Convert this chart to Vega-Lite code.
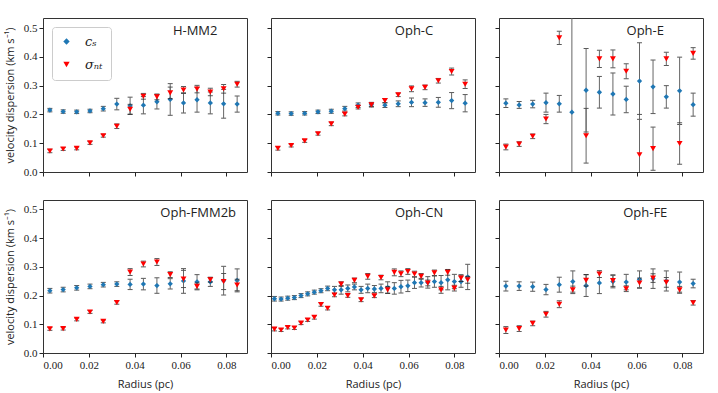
{
"$schema":"https://vega.github.io/schema/vega-lite/v6.json",
"background":"white",
"padding":{"left":3,"top":17,"right":5,"bottom":4},
"datasets":{"d":[
{"p":"H-MM2","s":"cs","r":0.0030,"v":0.215,"e":0.006},{"p":"H-MM2","s":"cs","r":0.0088,"v":0.210,"e":0.006},{"p":"H-MM2","s":"cs","r":0.0147,"v":0.209,"e":0.006},{"p":"H-MM2","s":"cs","r":0.0205,"v":0.212,"e":0.006},{"p":"H-MM2","s":"cs","r":0.0263,"v":0.220,"e":0.008},{"p":"H-MM2","s":"cs","r":0.0322,"v":0.236,"e":0.02},{"p":"H-MM2","s":"cs","r":0.0380,"v":0.230,"e":0.03},{"p":"H-MM2","s":"cs","r":0.0438,"v":0.232,"e":0.03},{"p":"H-MM2","s":"cs","r":0.0497,"v":0.244,"e":0.025},{"p":"H-MM2","s":"cs","r":0.0555,"v":0.252,"e":0.055},{"p":"H-MM2","s":"cs","r":0.0613,"v":0.240,"e":0.035},{"p":"H-MM2","s":"cs","r":0.0672,"v":0.251,"e":0.043},{"p":"H-MM2","s":"cs","r":0.0730,"v":0.240,"e":0.038},{"p":"H-MM2","s":"cs","r":0.0788,"v":0.237,"e":0.05},{"p":"H-MM2","s":"cs","r":0.0847,"v":0.236,"e":0.028},
{"p":"H-MM2","s":"nt","r":0.0030,"v":0.073,"e":0.006},{"p":"H-MM2","s":"nt","r":0.0088,"v":0.080,"e":0.005},{"p":"H-MM2","s":"nt","r":0.0147,"v":0.082,"e":0.005},{"p":"H-MM2","s":"nt","r":0.0205,"v":0.101,"e":0.005},{"p":"H-MM2","s":"nt","r":0.0263,"v":0.126,"e":0.005},{"p":"H-MM2","s":"nt","r":0.0322,"v":0.159,"e":0.008},{"p":"H-MM2","s":"nt","r":0.0380,"v":0.218,"e":0.017},{"p":"H-MM2","s":"nt","r":0.0438,"v":0.263,"e":0.01},{"p":"H-MM2","s":"nt","r":0.0497,"v":0.261,"e":0.01},{"p":"H-MM2","s":"nt","r":0.0555,"v":0.275,"e":0.02},{"p":"H-MM2","s":"nt","r":0.0613,"v":0.285,"e":0.012},{"p":"H-MM2","s":"nt","r":0.0672,"v":0.288,"e":0.013},{"p":"H-MM2","s":"nt","r":0.0730,"v":0.278,"e":0.013},{"p":"H-MM2","s":"nt","r":0.0788,"v":0.289,"e":0.015},{"p":"H-MM2","s":"nt","r":0.0847,"v":0.305,"e":0.01},
{"p":"Oph-C","s":"cs","r":0.0030,"v":0.204,"e":0.006},{"p":"Oph-C","s":"cs","r":0.0088,"v":0.203,"e":0.006},{"p":"Oph-C","s":"cs","r":0.0147,"v":0.204,"e":0.006},{"p":"Oph-C","s":"cs","r":0.0205,"v":0.209,"e":0.006},{"p":"Oph-C","s":"cs","r":0.0263,"v":0.211,"e":0.007},{"p":"Oph-C","s":"cs","r":0.0322,"v":0.220,"e":0.008},{"p":"Oph-C","s":"cs","r":0.0380,"v":0.232,"e":0.008},{"p":"Oph-C","s":"cs","r":0.0438,"v":0.234,"e":0.008},{"p":"Oph-C","s":"cs","r":0.0497,"v":0.232,"e":0.008},{"p":"Oph-C","s":"cs","r":0.0555,"v":0.237,"e":0.01},{"p":"Oph-C","s":"cs","r":0.0613,"v":0.242,"e":0.015},{"p":"Oph-C","s":"cs","r":0.0672,"v":0.241,"e":0.013},{"p":"Oph-C","s":"cs","r":0.0730,"v":0.242,"e":0.017},{"p":"Oph-C","s":"cs","r":0.0788,"v":0.248,"e":0.028},{"p":"Oph-C","s":"cs","r":0.0847,"v":0.239,"e":0.03},
{"p":"Oph-C","s":"nt","r":0.0030,"v":0.082,"e":0.006},{"p":"Oph-C","s":"nt","r":0.0088,"v":0.092,"e":0.005},{"p":"Oph-C","s":"nt","r":0.0147,"v":0.108,"e":0.005},{"p":"Oph-C","s":"nt","r":0.0205,"v":0.133,"e":0.005},{"p":"Oph-C","s":"nt","r":0.0263,"v":0.167,"e":0.006},{"p":"Oph-C","s":"nt","r":0.0322,"v":0.201,"e":0.006},{"p":"Oph-C","s":"nt","r":0.0380,"v":0.225,"e":0.006},{"p":"Oph-C","s":"nt","r":0.0438,"v":0.233,"e":0.006},{"p":"Oph-C","s":"nt","r":0.0497,"v":0.248,"e":0.007},{"p":"Oph-C","s":"nt","r":0.0555,"v":0.268,"e":0.006},{"p":"Oph-C","s":"nt","r":0.0613,"v":0.289,"e":0.01},{"p":"Oph-C","s":"nt","r":0.0672,"v":0.294,"e":0.008},{"p":"Oph-C","s":"nt","r":0.0730,"v":0.317,"e":0.008},{"p":"Oph-C","s":"nt","r":0.0788,"v":0.349,"e":0.012},{"p":"Oph-C","s":"nt","r":0.0847,"v":0.305,"e":0.015},
{"p":"Oph-E","s":"cs","r":0.0030,"v":0.239,"e":0.015},{"p":"Oph-E","s":"cs","r":0.0088,"v":0.233,"e":0.012},{"p":"Oph-E","s":"cs","r":0.0147,"v":0.236,"e":0.013},{"p":"Oph-E","s":"cs","r":0.0205,"v":0.241,"e":0.033},{"p":"Oph-E","s":"cs","r":0.0263,"v":0.237,"e":0.029},{"p":"Oph-E","s":"cs","r":0.0318,"v":0.208,"e":0.7},{"p":"Oph-E","s":"cs","r":0.0380,"v":0.284,"e":0.145},{"p":"Oph-E","s":"cs","r":0.0438,"v":0.277,"e":0.055},{"p":"Oph-E","s":"cs","r":0.0497,"v":0.271,"e":0.073},{"p":"Oph-E","s":"cs","r":0.0555,"v":0.252,"e":0.046},{"p":"Oph-E","s":"cs","r":0.0613,"v":0.316,"e":0.133},{"p":"Oph-E","s":"cs","r":0.0672,"v":0.296,"e":0.093},{"p":"Oph-E","s":"cs","r":0.0730,"v":0.261,"e":0.039},{"p":"Oph-E","s":"cs","r":0.0788,"v":0.282,"e":0.117},{"p":"Oph-E","s":"cs","r":0.0847,"v":0.234,"e":0.04},
{"p":"Oph-E","s":"nt","r":0.0030,"v":0.087,"e":0.01},{"p":"Oph-E","s":"nt","r":0.0088,"v":0.097,"e":0.008},{"p":"Oph-E","s":"nt","r":0.0147,"v":0.124,"e":0.008},{"p":"Oph-E","s":"nt","r":0.0205,"v":0.184,"e":0.016},{"p":"Oph-E","s":"nt","r":0.0263,"v":0.466,"e":0.023},{"p":"Oph-E","s":"nt","r":0.0380,"v":0.126,"e":0.095},{"p":"Oph-E","s":"nt","r":0.0438,"v":0.393,"e":0.03},{"p":"Oph-E","s":"nt","r":0.0497,"v":0.393,"e":0.031},{"p":"Oph-E","s":"nt","r":0.0555,"v":0.350,"e":0.026},{"p":"Oph-E","s":"nt","r":0.0613,"v":0.060,"e":0.14},{"p":"Oph-E","s":"nt","r":0.0672,"v":0.081,"e":0.075},{"p":"Oph-E","s":"nt","r":0.0730,"v":0.393,"e":0.023},{"p":"Oph-E","s":"nt","r":0.0788,"v":0.099,"e":0.072},{"p":"Oph-E","s":"nt","r":0.0847,"v":0.412,"e":0.02},
{"p":"Oph-FMM2b","s":"cs","r":0.0030,"v":0.217,"e":0.008},{"p":"Oph-FMM2b","s":"cs","r":0.0088,"v":0.221,"e":0.008},{"p":"Oph-FMM2b","s":"cs","r":0.0147,"v":0.227,"e":0.008},{"p":"Oph-FMM2b","s":"cs","r":0.0205,"v":0.232,"e":0.008},{"p":"Oph-FMM2b","s":"cs","r":0.0263,"v":0.238,"e":0.008},{"p":"Oph-FMM2b","s":"cs","r":0.0322,"v":0.240,"e":0.008},{"p":"Oph-FMM2b","s":"cs","r":0.0380,"v":0.239,"e":0.018},{"p":"Oph-FMM2b","s":"cs","r":0.0438,"v":0.240,"e":0.02},{"p":"Oph-FMM2b","s":"cs","r":0.0497,"v":0.235,"e":0.027},{"p":"Oph-FMM2b","s":"cs","r":0.0555,"v":0.241,"e":0.018},{"p":"Oph-FMM2b","s":"cs","r":0.0613,"v":0.251,"e":0.043},{"p":"Oph-FMM2b","s":"cs","r":0.0672,"v":0.248,"e":0.025},{"p":"Oph-FMM2b","s":"cs","r":0.0730,"v":0.248,"e":0.016},{"p":"Oph-FMM2b","s":"cs","r":0.0788,"v":0.252,"e":0.05},{"p":"Oph-FMM2b","s":"cs","r":0.0847,"v":0.253,"e":0.04},
{"p":"Oph-FMM2b","s":"nt","r":0.0030,"v":0.084,"e":0.005},{"p":"Oph-FMM2b","s":"nt","r":0.0088,"v":0.085,"e":0.005},{"p":"Oph-FMM2b","s":"nt","r":0.0147,"v":0.117,"e":0.005},{"p":"Oph-FMM2b","s":"nt","r":0.0205,"v":0.143,"e":0.005},{"p":"Oph-FMM2b","s":"nt","r":0.0263,"v":0.110,"e":0.005},{"p":"Oph-FMM2b","s":"nt","r":0.0322,"v":0.176,"e":0.006},{"p":"Oph-FMM2b","s":"nt","r":0.0380,"v":0.282,"e":0.012},{"p":"Oph-FMM2b","s":"nt","r":0.0438,"v":0.310,"e":0.01},{"p":"Oph-FMM2b","s":"nt","r":0.0497,"v":0.317,"e":0.012},{"p":"Oph-FMM2b","s":"nt","r":0.0555,"v":0.273,"e":0.01},{"p":"Oph-FMM2b","s":"nt","r":0.0613,"v":0.258,"e":0.03},{"p":"Oph-FMM2b","s":"nt","r":0.0672,"v":0.232,"e":0.012},{"p":"Oph-FMM2b","s":"nt","r":0.0730,"v":0.255,"e":0.008},{"p":"Oph-FMM2b","s":"nt","r":0.0788,"v":0.249,"e":0.028},{"p":"Oph-FMM2b","s":"nt","r":0.0847,"v":0.237,"e":0.02},
{"p":"Oph-CN","s":"cs","r":0.0015,"v":0.189,"e":0.008},{"p":"Oph-CN","s":"cs","r":0.0044,"v":0.188,"e":0.007},{"p":"Oph-CN","s":"cs","r":0.0073,"v":0.191,"e":0.007},{"p":"Oph-CN","s":"cs","r":0.0102,"v":0.193,"e":0.007},{"p":"Oph-CN","s":"cs","r":0.0131,"v":0.200,"e":0.007},{"p":"Oph-CN","s":"cs","r":0.0160,"v":0.206,"e":0.007},{"p":"Oph-CN","s":"cs","r":0.0189,"v":0.212,"e":0.007},{"p":"Oph-CN","s":"cs","r":0.0218,"v":0.217,"e":0.007},{"p":"Oph-CN","s":"cs","r":0.0247,"v":0.225,"e":0.008},{"p":"Oph-CN","s":"cs","r":0.0277,"v":0.220,"e":0.012},{"p":"Oph-CN","s":"cs","r":0.0306,"v":0.220,"e":0.015},{"p":"Oph-CN","s":"cs","r":0.0335,"v":0.225,"e":0.012},{"p":"Oph-CN","s":"cs","r":0.0364,"v":0.230,"e":0.01},{"p":"Oph-CN","s":"cs","r":0.0393,"v":0.220,"e":0.012},{"p":"Oph-CN","s":"cs","r":0.0422,"v":0.225,"e":0.015},{"p":"Oph-CN","s":"cs","r":0.0451,"v":0.223,"e":0.012},{"p":"Oph-CN","s":"cs","r":0.0480,"v":0.225,"e":0.015},{"p":"Oph-CN","s":"cs","r":0.0509,"v":0.228,"e":0.02},{"p":"Oph-CN","s":"cs","r":0.0538,"v":0.225,"e":0.02},{"p":"Oph-CN","s":"cs","r":0.0567,"v":0.231,"e":0.022},{"p":"Oph-CN","s":"cs","r":0.0597,"v":0.234,"e":0.02},{"p":"Oph-CN","s":"cs","r":0.0626,"v":0.245,"e":0.02},{"p":"Oph-CN","s":"cs","r":0.0655,"v":0.245,"e":0.015},{"p":"Oph-CN","s":"cs","r":0.0684,"v":0.246,"e":0.02},{"p":"Oph-CN","s":"cs","r":0.0713,"v":0.249,"e":0.02},{"p":"Oph-CN","s":"cs","r":0.0742,"v":0.245,"e":0.025},{"p":"Oph-CN","s":"cs","r":0.0771,"v":0.255,"e":0.035},{"p":"Oph-CN","s":"cs","r":0.0800,"v":0.249,"e":0.025},{"p":"Oph-CN","s":"cs","r":0.0829,"v":0.249,"e":0.02},{"p":"Oph-CN","s":"cs","r":0.0858,"v":0.265,"e":0.044},
{"p":"Oph-CN","s":"nt","r":0.0015,"v":0.083,"e":0.006},{"p":"Oph-CN","s":"nt","r":0.0044,"v":0.080,"e":0.005},{"p":"Oph-CN","s":"nt","r":0.0073,"v":0.089,"e":0.005},{"p":"Oph-CN","s":"nt","r":0.0102,"v":0.087,"e":0.005},{"p":"Oph-CN","s":"nt","r":0.0131,"v":0.104,"e":0.005},{"p":"Oph-CN","s":"nt","r":0.0160,"v":0.115,"e":0.005},{"p":"Oph-CN","s":"nt","r":0.0189,"v":0.124,"e":0.006},{"p":"Oph-CN","s":"nt","r":0.0218,"v":0.169,"e":0.006},{"p":"Oph-CN","s":"nt","r":0.0247,"v":0.156,"e":0.006},{"p":"Oph-CN","s":"nt","r":0.0277,"v":0.202,"e":0.006},{"p":"Oph-CN","s":"nt","r":0.0306,"v":0.240,"e":0.008},{"p":"Oph-CN","s":"nt","r":0.0335,"v":0.200,"e":0.006},{"p":"Oph-CN","s":"nt","r":0.0364,"v":0.253,"e":0.008},{"p":"Oph-CN","s":"nt","r":0.0393,"v":0.185,"e":0.006},{"p":"Oph-CN","s":"nt","r":0.0422,"v":0.267,"e":0.01},{"p":"Oph-CN","s":"nt","r":0.0451,"v":0.199,"e":0.006},{"p":"Oph-CN","s":"nt","r":0.0480,"v":0.263,"e":0.008},{"p":"Oph-CN","s":"nt","r":0.0509,"v":0.220,"e":0.012},{"p":"Oph-CN","s":"nt","r":0.0538,"v":0.281,"e":0.012},{"p":"Oph-CN","s":"nt","r":0.0567,"v":0.276,"e":0.01},{"p":"Oph-CN","s":"nt","r":0.0597,"v":0.284,"e":0.01},{"p":"Oph-CN","s":"nt","r":0.0626,"v":0.275,"e":0.01},{"p":"Oph-CN","s":"nt","r":0.0655,"v":0.267,"e":0.01},{"p":"Oph-CN","s":"nt","r":0.0684,"v":0.244,"e":0.01},{"p":"Oph-CN","s":"nt","r":0.0713,"v":0.279,"e":0.01},{"p":"Oph-CN","s":"nt","r":0.0742,"v":0.220,"e":0.012},{"p":"Oph-CN","s":"nt","r":0.0771,"v":0.281,"e":0.01},{"p":"Oph-CN","s":"nt","r":0.0800,"v":0.226,"e":0.01},{"p":"Oph-CN","s":"nt","r":0.0829,"v":0.261,"e":0.012},{"p":"Oph-CN","s":"nt","r":0.0858,"v":0.255,"e":0.012},
{"p":"Oph-FE","s":"cs","r":0.0030,"v":0.233,"e":0.017},{"p":"Oph-FE","s":"cs","r":0.0088,"v":0.233,"e":0.015},{"p":"Oph-FE","s":"cs","r":0.0147,"v":0.231,"e":0.016},{"p":"Oph-FE","s":"cs","r":0.0205,"v":0.221,"e":0.018},{"p":"Oph-FE","s":"cs","r":0.0263,"v":0.238,"e":0.026},{"p":"Oph-FE","s":"cs","r":0.0322,"v":0.249,"e":0.037},{"p":"Oph-FE","s":"cs","r":0.0380,"v":0.235,"e":0.038},{"p":"Oph-FE","s":"cs","r":0.0438,"v":0.244,"e":0.037},{"p":"Oph-FE","s":"cs","r":0.0497,"v":0.249,"e":0.022},{"p":"Oph-FE","s":"cs","r":0.0555,"v":0.247,"e":0.027},{"p":"Oph-FE","s":"cs","r":0.0613,"v":0.256,"e":0.03},{"p":"Oph-FE","s":"cs","r":0.0672,"v":0.259,"e":0.034},{"p":"Oph-FE","s":"cs","r":0.0730,"v":0.251,"e":0.035},{"p":"Oph-FE","s":"cs","r":0.0788,"v":0.247,"e":0.035},{"p":"Oph-FE","s":"cs","r":0.0847,"v":0.242,"e":0.015},
{"p":"Oph-FE","s":"nt","r":0.0030,"v":0.080,"e":0.012},{"p":"Oph-FE","s":"nt","r":0.0088,"v":0.085,"e":0.01},{"p":"Oph-FE","s":"nt","r":0.0147,"v":0.103,"e":0.008},{"p":"Oph-FE","s":"nt","r":0.0205,"v":0.135,"e":0.01},{"p":"Oph-FE","s":"nt","r":0.0263,"v":0.170,"e":0.012},{"p":"Oph-FE","s":"nt","r":0.0322,"v":0.220,"e":0.013},{"p":"Oph-FE","s":"nt","r":0.0380,"v":0.253,"e":0.02},{"p":"Oph-FE","s":"nt","r":0.0438,"v":0.275,"e":0.012},{"p":"Oph-FE","s":"nt","r":0.0497,"v":0.252,"e":0.02},{"p":"Oph-FE","s":"nt","r":0.0555,"v":0.224,"e":0.01},{"p":"Oph-FE","s":"nt","r":0.0613,"v":0.244,"e":0.017},{"p":"Oph-FE","s":"nt","r":0.0672,"v":0.261,"e":0.015},{"p":"Oph-FE","s":"nt","r":0.0730,"v":0.246,"e":0.017},{"p":"Oph-FE","s":"nt","r":0.0788,"v":0.220,"e":0.012},{"p":"Oph-FE","s":"nt","r":0.0847,"v":0.175,"e":0.008}
]},
"data":{"name":"d"},
"spacing":21,
"vconcat":[
{"hconcat":[
{"width":204,"height":154,
 "layer":[
  {"encoding":{"x":{"field":"r","type":"quantitative","scale":{"domain":[0,0.089],"nice":false},"axis":{"values":[0,0.02,0.04,0.06,0.08],"labels":false,"title":null}},
    "y":{"field":"v","type":"quantitative","scale":{"domain":[0,0.535],"nice":false},"axis":{"values":[0,0.1,0.2,0.3,0.4,0.5],"format":".1f","title":"velocity dispersion  (km s⁻¹)"}}},
   "layer":[
    {"transform":[{"filter":"datum.p==='H-MM2' && datum.s==='cs'"}],"mark":{"type":"errorbar","clip":true,"rule":{"color":"#666"},"ticks":{"size":5,"color":"#111"}},"encoding":{"yError":{"field":"e"}}},
    {"transform":[{"filter":"datum.p==='H-MM2' && datum.s==='cs'"}],"mark":{"type":"point","filled":true,"opacity":1,"size":28},"encoding":{"color":{"field":"s","type":"nominal","scale":{"domain":["cs","nt"],"range":["#1f77b4","#ff0000"]},"legend":{"title":null,"orient":"top-left","offset":9,"labelExpr":"datum.value==='cs' ? 'cₛ' : 'σₙₜ'","strokeColor":"#ccc","fillColor":"white","padding":8,"cornerRadius":3,"rowPadding":9,"symbolSize":40,"labelOffset":12,"labelFont":"DejaVu Serif","labelFontStyle":"italic","labelFontSize":13,"labelColor":"#222"}},"shape":{"field":"s","type":"nominal","scale":{"domain":["cs","nt"],"range":["diamond","triangle-down"]}}}},
    {"transform":[{"filter":"datum.p==='H-MM2' && datum.s==='nt'"}],"mark":{"type":"errorbar","clip":true,"rule":{"color":"#666"},"ticks":{"size":5,"color":"#111"}},"encoding":{"yError":{"field":"e"}}},
    {"transform":[{"filter":"datum.p==='H-MM2' && datum.s==='nt'"}],"mark":{"type":"point","filled":true,"opacity":1,"size":35},"encoding":{"color":{"field":"s","type":"nominal"},"shape":{"field":"s","type":"nominal"}}}
   ]},
  {"transform":[{"filter":"datum.p==='H-MM2'"},{"aggregate":[{"op":"count","as":"n"}],"groupby":["p"]}],"mark":{"type":"text","font":"Open Sans","fontSize":13,"color":"#222"},"encoding":{"x":{"datum":0.0664,"type":"quantitative","axis":{"values":[0,0.02,0.04,0.06,0.08],"labels":false,"title":null}},"y":{"datum":0.49,"type":"quantitative","axis":{"values":[0,0.1,0.2,0.3,0.4,0.5],"format":".1f","title":"velocity dispersion  (km s⁻¹)"}},"text":{"field":"p"}}}
 ]},
{"width":204,"height":154,
 "layer":[
  {"encoding":{"x":{"field":"r","type":"quantitative","scale":{"domain":[0,0.089],"nice":false},"axis":{"values":[0,0.02,0.04,0.06,0.08],"labels":false,"title":null}},
    "y":{"field":"v","type":"quantitative","scale":{"domain":[0,0.535],"nice":false},"axis":{"values":[0,0.1,0.2,0.3,0.4,0.5],"labels":false,"title":null}}},
   "layer":[
    {"transform":[{"filter":"datum.p==='Oph-C' && datum.s==='cs'"}],"mark":{"type":"errorbar","clip":true,"rule":{"color":"#666"},"ticks":{"size":5,"color":"#111"}},"encoding":{"yError":{"field":"e"}}},
    {"transform":[{"filter":"datum.p==='Oph-C' && datum.s==='cs'"}],"mark":{"type":"point","filled":true,"opacity":1,"size":28,"shape":"diamond","color":"#1f77b4"}},
    {"transform":[{"filter":"datum.p==='Oph-C' && datum.s==='nt'"}],"mark":{"type":"errorbar","clip":true,"rule":{"color":"#666"},"ticks":{"size":5,"color":"#111"}},"encoding":{"yError":{"field":"e"}}},
    {"transform":[{"filter":"datum.p==='Oph-C' && datum.s==='nt'"}],"mark":{"type":"point","filled":true,"opacity":1,"size":35,"shape":"triangle-down","color":"#ff0000"}}
   ]},
  {"transform":[{"filter":"datum.p==='Oph-C'"},{"aggregate":[{"op":"count","as":"n"}],"groupby":["p"]}],"mark":{"type":"text","font":"Open Sans","fontSize":13,"color":"#222"},"encoding":{"x":{"datum":0.0624,"type":"quantitative","axis":{"values":[0,0.02,0.04,0.06,0.08],"labels":false,"title":null}},"y":{"datum":0.49,"type":"quantitative","axis":{"values":[0,0.1,0.2,0.3,0.4,0.5],"labels":false,"title":null}},"text":{"field":"p"}}}
 ]},
{"width":204,"height":154,
 "layer":[
  {"encoding":{"x":{"field":"r","type":"quantitative","scale":{"domain":[0,0.089],"nice":false},"axis":{"values":[0,0.02,0.04,0.06,0.08],"labels":false,"title":null}},
    "y":{"field":"v","type":"quantitative","scale":{"domain":[0,0.535],"nice":false},"axis":{"values":[0,0.1,0.2,0.3,0.4,0.5],"labels":false,"title":null}}},
   "layer":[
    {"transform":[{"filter":"datum.p==='Oph-E' && datum.s==='cs'"}],"mark":{"type":"errorbar","clip":true,"rule":{"color":"#666"},"ticks":{"size":5,"color":"#111"}},"encoding":{"yError":{"field":"e"}}},
    {"transform":[{"filter":"datum.p==='Oph-E' && datum.s==='cs'"}],"mark":{"type":"point","filled":true,"opacity":1,"size":28,"shape":"diamond","color":"#1f77b4"}},
    {"transform":[{"filter":"datum.p==='Oph-E' && datum.s==='nt'"}],"mark":{"type":"errorbar","clip":true,"rule":{"color":"#666"},"ticks":{"size":5,"color":"#111"}},"encoding":{"yError":{"field":"e"}}},
    {"transform":[{"filter":"datum.p==='Oph-E' && datum.s==='nt'"}],"mark":{"type":"point","filled":true,"opacity":1,"size":35,"shape":"triangle-down","color":"#ff0000"}}
   ]},
  {"transform":[{"filter":"datum.p==='Oph-E'"},{"aggregate":[{"op":"count","as":"n"}],"groupby":["p"]}],"mark":{"type":"text","font":"Open Sans","fontSize":13,"color":"#222"},"encoding":{"x":{"datum":0.0638,"type":"quantitative","axis":{"values":[0,0.02,0.04,0.06,0.08],"labels":false,"title":null}},"y":{"datum":0.49,"type":"quantitative","axis":{"values":[0,0.1,0.2,0.3,0.4,0.5],"labels":false,"title":null}},"text":{"field":"p"}}}
 ]}
],"spacing":24,"bounds":"flush"},
{"hconcat":[
{"width":204,"height":153,
 "layer":[
  {"encoding":{"x":{"field":"r","type":"quantitative","scale":{"domain":[0,0.089],"nice":false},"axis":{"values":[0,0.02,0.04,0.06,0.08],"format":".2f","title":"Radius (pc)"}},
    "y":{"field":"v","type":"quantitative","scale":{"domain":[0,0.533],"nice":false},"axis":{"values":[0,0.1,0.2,0.3,0.4,0.5],"format":".1f","title":"velocity dispersion  (km s⁻¹)"}}},
   "layer":[
    {"transform":[{"filter":"datum.p==='Oph-FMM2b' && datum.s==='cs'"}],"mark":{"type":"errorbar","clip":true,"rule":{"color":"#666"},"ticks":{"size":5,"color":"#111"}},"encoding":{"yError":{"field":"e"}}},
    {"transform":[{"filter":"datum.p==='Oph-FMM2b' && datum.s==='cs'"}],"mark":{"type":"point","filled":true,"opacity":1,"size":28,"shape":"diamond","color":"#1f77b4"}},
    {"transform":[{"filter":"datum.p==='Oph-FMM2b' && datum.s==='nt'"}],"mark":{"type":"errorbar","clip":true,"rule":{"color":"#666"},"ticks":{"size":5,"color":"#111"}},"encoding":{"yError":{"field":"e"}}},
    {"transform":[{"filter":"datum.p==='Oph-FMM2b' && datum.s==='nt'"}],"mark":{"type":"point","filled":true,"opacity":1,"size":35,"shape":"triangle-down","color":"#ff0000"}}
   ]},
  {"transform":[{"filter":"datum.p==='Oph-FMM2b'"},{"aggregate":[{"op":"count","as":"n"}],"groupby":["p"]}],"mark":{"type":"text","font":"Open Sans","fontSize":13,"color":"#222"},"encoding":{"x":{"datum":0.0677,"type":"quantitative","axis":{"values":[0,0.02,0.04,0.06,0.08],"format":".2f","title":"Radius (pc)"}},"y":{"datum":0.486,"type":"quantitative","axis":{"values":[0,0.1,0.2,0.3,0.4,0.5],"format":".1f","title":"velocity dispersion  (km s⁻¹)"}},"text":{"field":"p"}}}
 ]},
{"width":204,"height":153,
 "layer":[
  {"encoding":{"x":{"field":"r","type":"quantitative","scale":{"domain":[0,0.089],"nice":false},"axis":{"values":[0,0.02,0.04,0.06,0.08],"format":".2f","title":"Radius (pc)"}},
    "y":{"field":"v","type":"quantitative","scale":{"domain":[0,0.533],"nice":false},"axis":{"values":[0,0.1,0.2,0.3,0.4,0.5],"labels":false,"title":null}}},
   "layer":[
    {"transform":[{"filter":"datum.p==='Oph-CN' && datum.s==='cs'"}],"mark":{"type":"errorbar","clip":true,"rule":{"color":"#666"},"ticks":{"size":5,"color":"#111"}},"encoding":{"yError":{"field":"e"}}},
    {"transform":[{"filter":"datum.p==='Oph-CN' && datum.s==='cs'"}],"mark":{"type":"point","filled":true,"opacity":1,"size":28,"shape":"diamond","color":"#1f77b4"}},
    {"transform":[{"filter":"datum.p==='Oph-CN' && datum.s==='nt'"}],"mark":{"type":"errorbar","clip":true,"rule":{"color":"#666"},"ticks":{"size":5,"color":"#111"}},"encoding":{"yError":{"field":"e"}}},
    {"transform":[{"filter":"datum.p==='Oph-CN' && datum.s==='nt'"}],"mark":{"type":"point","filled":true,"opacity":1,"size":35,"shape":"triangle-down","color":"#ff0000"}}
   ]},
  {"transform":[{"filter":"datum.p==='Oph-CN'"},{"aggregate":[{"op":"count","as":"n"}],"groupby":["p"]}],"mark":{"type":"text","font":"Open Sans","fontSize":13,"color":"#222"},"encoding":{"x":{"datum":0.0646,"type":"quantitative","axis":{"values":[0,0.02,0.04,0.06,0.08],"format":".2f","title":"Radius (pc)"}},"y":{"datum":0.486,"type":"quantitative","axis":{"values":[0,0.1,0.2,0.3,0.4,0.5],"labels":false,"title":null}},"text":{"field":"p"}}}
 ]},
{"width":204,"height":153,
 "layer":[
  {"encoding":{"x":{"field":"r","type":"quantitative","scale":{"domain":[0,0.089],"nice":false},"axis":{"values":[0,0.02,0.04,0.06,0.08],"format":".2f","title":"Radius (pc)"}},
    "y":{"field":"v","type":"quantitative","scale":{"domain":[0,0.533],"nice":false},"axis":{"values":[0,0.1,0.2,0.3,0.4,0.5],"labels":false,"title":null}}},
   "layer":[
    {"transform":[{"filter":"datum.p==='Oph-FE' && datum.s==='cs'"}],"mark":{"type":"errorbar","clip":true,"rule":{"color":"#666"},"ticks":{"size":5,"color":"#111"}},"encoding":{"yError":{"field":"e"}}},
    {"transform":[{"filter":"datum.p==='Oph-FE' && datum.s==='cs'"}],"mark":{"type":"point","filled":true,"opacity":1,"size":28,"shape":"diamond","color":"#1f77b4"}},
    {"transform":[{"filter":"datum.p==='Oph-FE' && datum.s==='nt'"}],"mark":{"type":"errorbar","clip":true,"rule":{"color":"#666"},"ticks":{"size":5,"color":"#111"}},"encoding":{"yError":{"field":"e"}}},
    {"transform":[{"filter":"datum.p==='Oph-FE' && datum.s==='nt'"}],"mark":{"type":"point","filled":true,"opacity":1,"size":35,"shape":"triangle-down","color":"#ff0000"}}
   ]},
  {"transform":[{"filter":"datum.p==='Oph-FE'"},{"aggregate":[{"op":"count","as":"n"}],"groupby":["p"]}],"mark":{"type":"text","font":"Open Sans","fontSize":13,"color":"#222"},"encoding":{"x":{"datum":0.0638,"type":"quantitative","axis":{"values":[0,0.02,0.04,0.06,0.08],"format":".2f","title":"Radius (pc)"}},"y":{"datum":0.486,"type":"quantitative","axis":{"values":[0,0.1,0.2,0.3,0.4,0.5],"labels":false,"title":null}},"text":{"field":"p"}}}
 ]}
],"spacing":24,"bounds":"flush"}
],
"config":{
 "view":{"stroke":"#333","strokeWidth":1},
 "axis":{"domain":false,"grid":false,"tickColor":"#222","tickSize":4,"labelFont":"Liberation Serif","labelFontSize":11,"labelColor":"#222","labelPadding":2,"titleFont":"Open Sans","titleFontSize":11,"titleFontWeight":"normal","titleColor":"#222"},
 "axisY":{"titlePadding":8},
 "axisX":{"titlePadding":8}
}
}
